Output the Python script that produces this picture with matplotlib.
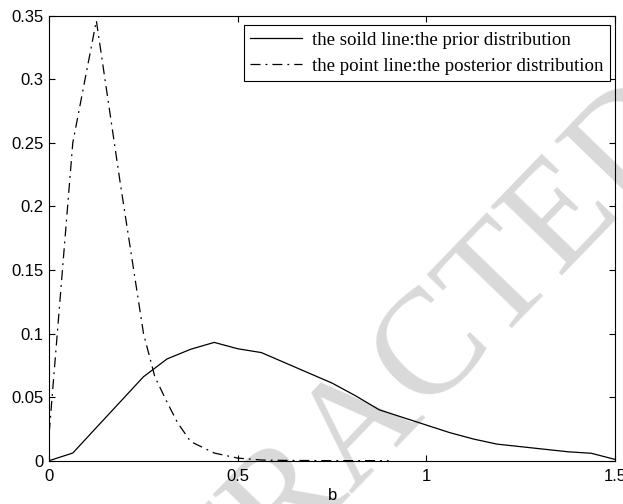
import matplotlib.pyplot as plt

# prior density on b, sampled every 0.0625
b_prior = [0, 0.0625, 0.125, 0.1875, 0.25, 0.3125, 0.375, 0.4375, 0.5, 0.5625,
           0.625, 0.6875, 0.75, 0.8125, 0.875, 0.9375, 1.0, 1.0625, 1.125,
           1.1875, 1.25, 1.3125, 1.375, 1.4375, 1.5]
prior = [0, 0.006, 0.026, 0.046, 0.066, 0.080, 0.0876, 0.093, 0.088, 0.085,
         0.077, 0.069, 0.061, 0.051, 0.040, 0.034, 0.028, 0.022, 0.017,
         0.013, 0.011, 0.009, 0.007, 0.0058, 0.001]

# posterior density on b
b_post = [0, 0.0625, 0.125, 0.1875, 0.25, 0.28, 0.3125, 0.34, 0.375, 0.4375,
          0.5, 0.5625, 0.625, 0.6875, 0.75, 0.8125, 0.875, 0.9]
post = [0.022, 0.25, 0.346, 0.22, 0.10, 0.066, 0.046, 0.030, 0.015, 0.006,
        0.002, 0.0005, 0.0002, 0.0001, 0, 0, 0, 0]

xticks = [0, 0.5, 1, 1.5]
yticks = [0, 0.05, 0.1, 0.15, 0.2, 0.25, 0.3, 0.35]
ylabels = ['0', '0.05', '0.1', '0.15', '0.2', '0.25', '0.3', '0.35']
labels = ['the soild line:the prior distribution',
          'the point line:the posterior distribution']

fig = plt.figure(figsize=(6.23, 5.04), dpi=100)
ax = fig.add_axes([0.079, 0.086, 0.908, 0.883])
ax.set_facecolor('none')

# stamp behind the axes
fig.text(0.585, 0.16, 'RETRACTED', fontsize=108, family='Liberation Serif',
         color='#d9d9d9', rotation=46, ha='center', va='center',
         rotation_mode='anchor', zorder=-1)

ax.plot(b_prior, prior, color='black', lw=0.9, label=labels[0])
ax.plot(b_post, post, color='black', lw=0.9, dashes=(8, 4, 1.5, 4),
        label=labels[1])

ax.set_xlim(0, 1.5)
ax.set_ylim(0, 0.35)
ax.set_xticks(xticks)
ax.set_xticklabels(['0', '0.5', '1', '1.5'])
ax.set_yticks(yticks)
ax.set_yticklabels(ylabels)
ax.tick_params(direction='in', length=4.5, width=0.8, top=True, right=True,
               labelsize=12, pad=4)
ax.tick_params(axis='x', pad=6)
for lab in ax.get_xticklabels() + ax.get_yticklabels():
    lab.set_family('Liberation Sans')
for s in ax.spines.values():
    s.set_linewidth(0.8)
ax.set_xlabel('b', family='Liberation Sans', fontsize=12, labelpad=3)

leg = ax.legend(loc='upper right', bbox_to_anchor=(0.991, 0.979),
                borderaxespad=0, fancybox=False, edgecolor='black',
                framealpha=1, handlelength=2.75, handletextpad=0.5,
                borderpad=0.35, labelspacing=0.45,
                prop={'family': 'Liberation Serif', 'size': 13.6})
leg.get_frame().set_linewidth(0.8)

fig.savefig('out.png', dpi=100)
